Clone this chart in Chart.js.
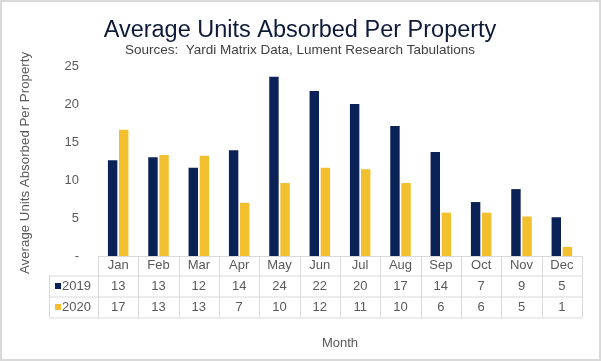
<!DOCTYPE html>
<html lang="en">
<head>
    <meta charset="UTF-8">
    <title>Average Units Absorbed Per Property</title>
    <script src="https://cdn.jsdelivr.net/npm/chart.js@4.4.1/dist/chart.umd.min.js"></script>
    <style>
        body {
            margin: 0;
            background-color: white;
        }
        .chart-container {
            position: relative;
            width: 601px;
            height: 361px;
        }
    </style>
</head>
<body>
    <div class="chart-container">
        <canvas id="absorbChart"></canvas>
    </div>

    <script>
        const months = ['Jan', 'Feb', 'Mar', 'Apr', 'May', 'Jun', 'Jul', 'Aug', 'Sep', 'Oct', 'Nov', 'Dec'];
        const seriesNames = ['2019', '2020'];
        const units2019 = [12.6, 13.0, 11.6, 13.9, 23.6, 21.7, 20.0, 17.1, 13.7, 7.1, 8.8, 5.1];
        const units2020 = [16.6, 13.3, 13.2, 7.0, 9.6, 11.6, 11.4, 9.6, 5.7, 5.7, 5.2, 1.2];
        const yTicks = [0, 5, 10, 15, 20, 25];

        const colors = ['#0b2257', '#f2bf2e'];
        const textGray = '#595959';
        const lineGray = '#d9d9d9';
        const font = '"Liberation Sans", Arial, sans-serif';

        // data table under the plot, drawn from the x scale
        const tablePlugin = {
            id: 'tableAndTitles',
            afterDraw(chart) {
                const ctx = chart.ctx;
                const area = chart.chartArea;
                const x = chart.scales.x;
                const colW = (area.right - area.left) / months.length;
                const legendLeft = 49;
                const rows = [area.bottom, area.bottom + 19.5, area.bottom + 40.5, area.bottom + 61.5];

                ctx.save();

                // titles
                ctx.textAlign = 'center';
                ctx.textBaseline = 'alphabetic';
                ctx.fillStyle = '#0e1a38';
                ctx.font = '23.5px ' + font;
                ctx.fillText('Average Units Absorbed Per Property', 300, 36.5);
                ctx.fillStyle = '#404040';
                ctx.font = '13.5px ' + font;
                ctx.fillText('Sources:  Yardi Matrix Data, Lument Research Tabulations', 300, 54);

                ctx.textBaseline = 'middle';

                // y axis title
                ctx.save();
                ctx.translate(25, (area.top + area.bottom) / 2 + 2);
                ctx.rotate(-Math.PI / 2);
                ctx.fillStyle = textGray;
                ctx.font = '13.3px ' + font;
                ctx.fillText('Average Units Absorbed Per Property', 0, 0);
                ctx.restore();

                // x axis title
                ctx.fillStyle = textGray;
                ctx.font = '13px ' + font;
                ctx.fillText('Month', (area.left + area.right) / 2, 343);

                // grid lines of the table
                ctx.strokeStyle = lineGray;
                ctx.lineWidth = 1;
                ctx.beginPath();
                ctx.moveTo(area.left, rows[0] + 0.5);
                ctx.lineTo(area.right, rows[0] + 0.5);
                for (let r = 1; r < rows.length; r++) {
                    ctx.moveTo(legendLeft, rows[r] + 0.5);
                    ctx.lineTo(area.right, rows[r] + 0.5);
                }
                ctx.moveTo(legendLeft + 0.5, rows[1]);
                ctx.lineTo(legendLeft + 0.5, rows[3]);
                for (let i = 0; i <= months.length; i++) {
                    const cx = Math.round(area.left + i * colW) + 0.5;
                    ctx.moveTo(cx, rows[0]);
                    ctx.lineTo(cx, rows[3]);
                }
                ctx.stroke();

                // table texts
                ctx.fillStyle = textGray;
                ctx.font = '13px ' + font;
                const series = [units2019, units2020];
                months.forEach((m, i) => {
                    const cx = x.getPixelForValue(i);
                    ctx.fillText(m, cx, (rows[0] + rows[1]) / 2);
                    series.forEach((s, r) => {
                        ctx.fillText(String(Math.round(s[i])), cx, (rows[r + 1] + rows[r + 2]) / 2);
                    });
                });

                // legend keys
                ctx.textAlign = 'left';
                seriesNames.forEach((name, r) => {
                    const cy = (rows[r + 1] + rows[r + 2]) / 2;
                    ctx.fillStyle = colors[r];
                    ctx.fillRect(55, cy - 3, 6, 6);
                    ctx.fillStyle = textGray;
                    ctx.fillText(name, 62, cy);
                });

                // outer border
                ctx.strokeStyle = lineGray;
                ctx.lineWidth = 2;
                ctx.strokeRect(1, 1, chart.width - 2, chart.height - 2);

                ctx.restore();
            }
        };

        const ctx = document.getElementById('absorbChart').getContext('2d');
        new Chart(ctx, {
            type: 'bar',
            data: {
                labels: months,
                datasets: [
                    {
                        label: seriesNames[0],
                        data: units2019,
                        backgroundColor: colors[0],
                        categoryPercentage: 0.55,
                        barPercentage: 0.85
                    },
                    {
                        label: seriesNames[1],
                        data: units2020,
                        backgroundColor: colors[1],
                        categoryPercentage: 0.55,
                        barPercentage: 0.85
                    }
                ]
            },
            options: {
                responsive: true,
                maintainAspectRatio: false,
                animation: false,
                layout: {
                    padding: { left: 0, top: 66, right: 19, bottom: 0 }
                },
                plugins: {
                    legend: { display: false },
                    tooltip: { enabled: false }
                },
                scales: {
                    x: {
                        grid: { display: false, drawTicks: false },
                        border: { display: false },
                        ticks: { display: false },
                        afterFit(scale) { scale.height = 105; }
                    },
                    y: {
                        min: 0,
                        max: 25,
                        afterBuildTicks(scale) {
                            scale.ticks = yTicks.map(v => ({ value: v }));
                        },
                        grid: { display: false, drawTicks: false },
                        border: { display: false },
                        ticks: {
                            color: textGray,
                            font: { family: font, size: 13 },
                            padding: 19,
                            callback: v => v === 0 ? '-' : v
                        },
                        afterFit(scale) { scale.width = 98; }
                    }
                }
            },
            plugins: [tablePlugin]
        });
    </script>
</body>
</html>
